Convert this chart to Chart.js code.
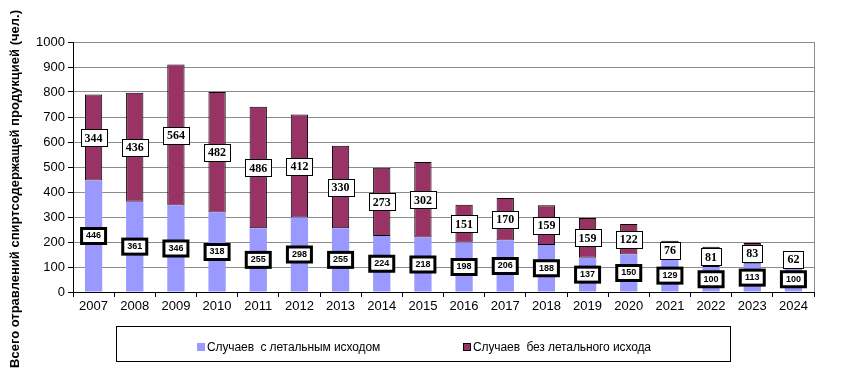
<!DOCTYPE html>
<html>
<head>
<meta charset="utf-8">
<script src="https://cdn.jsdelivr.net/npm/chart.js@4"></script>
<style>
  body { margin: 0; background: #fff; }
  #wrap { position: relative; width: 842px; height: 384px; }
  #legend {
    position: absolute; left: 116px; top: 326px; width: 613px; height: 34px;
    border: 1px solid #000; font: 12px "Liberation Sans", Arial, sans-serif;
    box-sizing: content-box;
  }
  .item { position: absolute; top: 13px; line-height: 14px; white-space: pre; letter-spacing: -0.1px; }
  .sw { display: inline-block; width: 8px; height: 8px; margin-right: 2px; vertical-align: 0px; box-sizing: border-box; }
</style>
</head>
<body>
<div id="wrap">
  <canvas id="chart" width="842" height="384"></canvas>
  <div id="legend">
    <span class="item" style="left:80px"><span class="sw" style="background:#9999ff"></span>Случаев  с летальным исходом</span>
    <span class="item" style="left:346px"><span class="sw" style="background:#993366;border:1px solid #000"></span>Случаев  без летального исхода</span>
  </div>
</div>
<script>
// ===== data =====
const years = ["2007", "2008", "2009", "2010", "2011", "2012", "2013", "2014", "2015",
  "2016", "2017", "2018", "2019", "2020", "2021", "2022", "2023", "2024"];
const lethal = [446, 361, 346, 318, 255, 298, 255, 224, 218, 198, 206, 188, 137, 150, 129, 100, 113, 100];
const nonLethal = [344, 436, 564, 482, 486, 412, 330, 273, 302, 151, 170, 159, 159, 122, 76, 81, 83, 62];
const yTitle = "Всего отравлений спиртсодержащей продукцией (чел.)";

const tickFont = { family: "'Liberation Sans', Arial, sans-serif", size: 13 };

// ===== labels + axis title =====
const labelPlugin = {
  id: "boxLabels",
  afterDatasetsDraw(chart) {
    const ctx = chart.ctx;
    ctx.save();
    ctx.textAlign = "center";
    ctx.textBaseline = "middle";

    // top segment labels: thin border
    chart.getDatasetMeta(1).data.forEach((bar, i) => {
      const y = (bar.y + bar.base) / 2;
      ctx.font = "bold 12px 'Liberation Serif', 'Times New Roman', serif";
      const w = Math.round(ctx.measureText(String(nonLethal[i])).width + 8);
      const h = 17;
      const x0 = Math.round(bar.x - w / 2), y0 = Math.round(y - h / 2);
      ctx.fillStyle = "#fff";
      ctx.fillRect(x0, y0, w, h);
      ctx.strokeStyle = "#000";
      ctx.lineWidth = 1;
      ctx.strokeRect(x0 + 0.5, y0 + 0.5, w, h);
      ctx.fillStyle = "#000";
      ctx.fillText(String(nonLethal[i]), bar.x, y + 1);
    });

    // bottom segment labels: thick border
    chart.getDatasetMeta(0).data.forEach((bar, i) => {
      const y = (bar.y + bar.base) / 2;
      ctx.font = "bold 9px 'Liberation Sans', Arial, sans-serif";
      const w = 24, h = 15;
      ctx.fillStyle = "#fff";
      ctx.fillRect(bar.x - w / 2, y - h / 2, w, h);
      ctx.strokeStyle = "#000";
      ctx.lineWidth = 3;
      ctx.strokeRect(bar.x - w / 2, y - h / 2, w, h);
      ctx.fillStyle = "#000";
      ctx.fillText(String(lethal[i]), bar.x, y);
    });

    // rotated y title
    ctx.translate(15, 189);
    ctx.rotate(-Math.PI / 2);
    ctx.font = "bold 13px 'Liberation Sans', Arial, sans-serif";
    ctx.fillStyle = "#000";
    ctx.fillText(yTitle, 0, 0);
    ctx.restore();
  }
};

const ctx = document.getElementById("chart").getContext("2d");
new Chart(ctx, {
  type: "bar",
  data: {
    labels: years,
    datasets: [
      {
        label: "Случаев  с летальным исходом",
        data: lethal,
        backgroundColor: "#9999ff",
        borderWidth: 0
      },
      {
        label: "Случаев  без летального исхода",
        data: nonLethal,
        backgroundColor: "#993366",
        borderColor: "#000",
        borderWidth: 1,
        borderSkipped: false
      }
    ]
  },
  options: {
    responsive: false,
    animation: false,
    events: [],
    layout: { padding: { left: 28, right: 28, top: 42, bottom: 0 } },
    datasets: { bar: { barPercentage: 0.42, categoryPercentage: 1 } },
    plugins: {
      legend: { display: false },
      tooltip: { enabled: false }
    },
    scales: {
      x: {
        stacked: true,
        afterFit: (s) => { s.height = 92; },
        grid: { display: true, drawOnChartArea: false, offset: true, color: "#000", tickLength: 5 },
        border: { color: "#000" },
        ticks: { color: "#000", padding: 2, font: tickFont }
      },
      y: {
        stacked: true,
        min: 0,
        max: 1000,
        afterFit: (s) => { s.width = 45; },
        grid: { color: "#8c8c8c", tickLength: 5, tickColor: "#000" },
        border: { color: "#000" },
        ticks: { stepSize: 100, color: "#000", padding: 3, font: tickFont, callback: (v) => String(v) }
      }
    }
  },
  plugins: [labelPlugin, {
    id: "rightBorder",
    afterDraw(chart) {
      const a = chart.chartArea, c = chart.ctx;
      c.save();
      c.strokeStyle = "#8c8c8c";
      c.lineWidth = 1;
      c.beginPath();
      c.moveTo(Math.round(a.right) + 0.5, a.top);
      c.lineTo(Math.round(a.right) + 0.5, a.bottom);
      c.stroke();
      c.restore();
    }
  }]
});
</script>
</body>
</html>
